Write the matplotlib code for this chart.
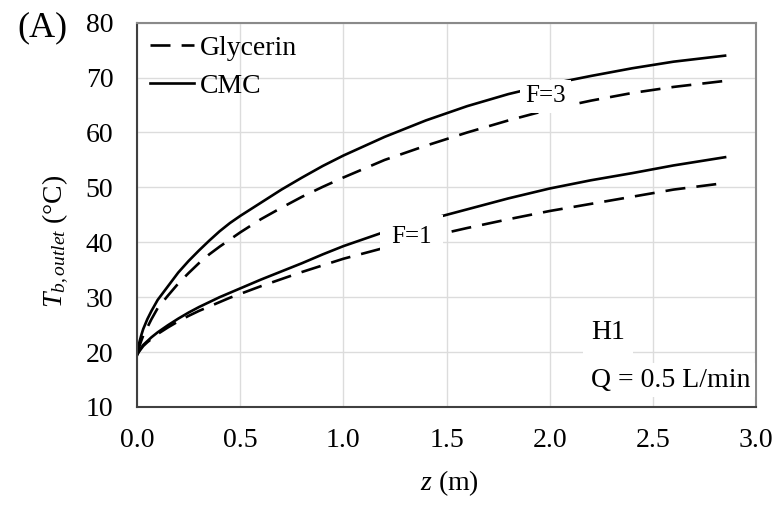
import matplotlib
matplotlib.use("Agg")
import matplotlib.pyplot as plt

plt.rcParams['font.family'] = ['Liberation Serif', 'DejaVu Serif']
plt.rcParams['mathtext.fontset'] = 'custom'
plt.rcParams['mathtext.it'] = 'Liberation Serif:italic'
plt.rcParams['mathtext.rm'] = 'Liberation Serif'
plt.rcParams['lines.scale_dashes'] = False

z = [0.0, 0.01, 0.02, 0.03, 0.05, 0.07, 0.1, 0.15, 0.2, 0.25, 0.3, 0.35, 0.4,
     0.45, 0.5, 0.6, 0.7, 0.8, 0.9, 1.0, 1.2, 1.4, 1.6, 1.8, 2.0, 2.2, 2.4,
     2.6, 2.85]
cmc_f3 = [19.5, 21.6, 23.0, 24.2, 26.0, 27.5, 29.5, 32.0, 34.5, 36.6, 38.5,
          40.3, 42.0, 43.5, 44.8, 47.2, 49.6, 51.8, 53.9, 55.8, 59.2, 62.2,
          64.8, 67.0, 68.8, 70.3, 71.7, 72.9, 74.0]
gly_f3 = [19.5, 20.9, 22.0, 23.0, 24.5, 26.0, 28.0, 30.3, 32.5, 34.4, 36.2,
          37.8, 39.2, 40.5, 41.8, 44.2, 46.3, 48.3, 50.1, 51.8, 55.0, 57.6,
          60.0, 62.2, 64.2, 65.8, 67.2, 68.3, 69.4]
cmc_f1 = [19.5, 20.2, 20.8, 21.3, 22.0, 22.7, 23.6, 24.9, 26.1, 27.2, 28.2,
          29.1, 30.0, 30.8, 31.6, 33.2, 34.7, 36.2, 37.8, 39.3, 41.9, 44.0,
          46.0, 48.0, 49.8, 51.3, 52.6, 54.0, 55.5]
gly_f1 = [19.5, 20.1, 20.6, 21.1, 21.8, 22.4, 23.3, 24.5, 25.6, 26.6, 27.5,
          28.3, 29.1, 29.9, 30.6, 32.0, 33.3, 34.6, 35.8, 37.0, 39.0, 40.9,
          42.6, 44.2, 45.7, 47.0, 48.3, 49.6, 50.8]

x_ticks = [0.0, 0.5, 1.0, 1.5, 2.0, 2.5, 3.0]
y_ticks = [10, 20, 30, 40, 50, 60, 70, 80]

fig = plt.figure(figsize=(7.79, 5.09), dpi=100)
ax = fig.add_axes([0.1759, 0.2004, 0.7946, 0.7550])

dash = (0, (14.4, 8.0))
lw = 1.9
ax.plot(z, gly_f3, color='black', lw=lw, linestyle=dash, label='Glycerin')
ax.plot(z, cmc_f3, color='black', lw=lw, label='CMC')
ax.plot(z, gly_f1, color='black', lw=lw, linestyle=dash)
ax.plot(z, cmc_f1, color='black', lw=lw)

ax.set_xlim(0, 3.0)
ax.set_ylim(10, 80)
ax.set_xticks(x_ticks)
ax.set_xticklabels([f"{v:.1f}" for v in x_ticks])
ax.set_yticks(y_ticks)
ax.tick_params(length=0, labelsize=20)
ax.tick_params(axis='y', pad=17)
ax.tick_params(axis='x', pad=15)
ax.grid(True, color='#dcdcdc', lw=1.0)
ax.set_axisbelow(True)

for s in ['left', 'bottom']:
    ax.spines[s].set_color('#404040')
    ax.spines[s].set_linewidth(1.5)
for s in ['top', 'right']:
    ax.spines[s].set_color('#8a8a8a')
    ax.spines[s].set_linewidth(1.5)

ax.text(1.98, 66.6, 'F=3', fontsize=18, ha='center', va='center',
        bbox=dict(facecolor='white', edgecolor='none', pad=4), zorder=5)
ax.text(1.33, 41.0, 'F=1', fontsize=18, ha='center', va='center',
        bbox=dict(facecolor='white', edgecolor='none', pad=8), zorder=5)
ax.text(2.2, 23.5, 'H1', fontsize=20, ha='left', va='center',
        bbox=dict(facecolor='white', edgecolor='none', pad=6), zorder=5)
ax.text(2.2, 14.9, 'Q = 0.5 L/min', fontsize=20, ha='left', va='center',
        bbox=dict(facecolor='white', edgecolor='none', pad=3), zorder=5)

ax.set_xlabel(r'$z$ (m)', fontsize=20, labelpad=17)
ax.set_ylabel(r'$T_{b,outlet}$ (°C)', fontsize=20)
ax.yaxis.set_label_coords(-0.107, 0.43)
ax.xaxis.set_label_coords(0.505, -0.16)

leg = ax.legend(loc='upper left', frameon=False, fontsize=20, handlelength=1.6,
                handletextpad=0.2, borderaxespad=0.15, labelspacing=0.45,
                borderpad=0.3)

fig.text(0.022, 0.946, '(A)', fontsize=26, ha='left', va='center')

fig.savefig('out.png', dpi=100)
